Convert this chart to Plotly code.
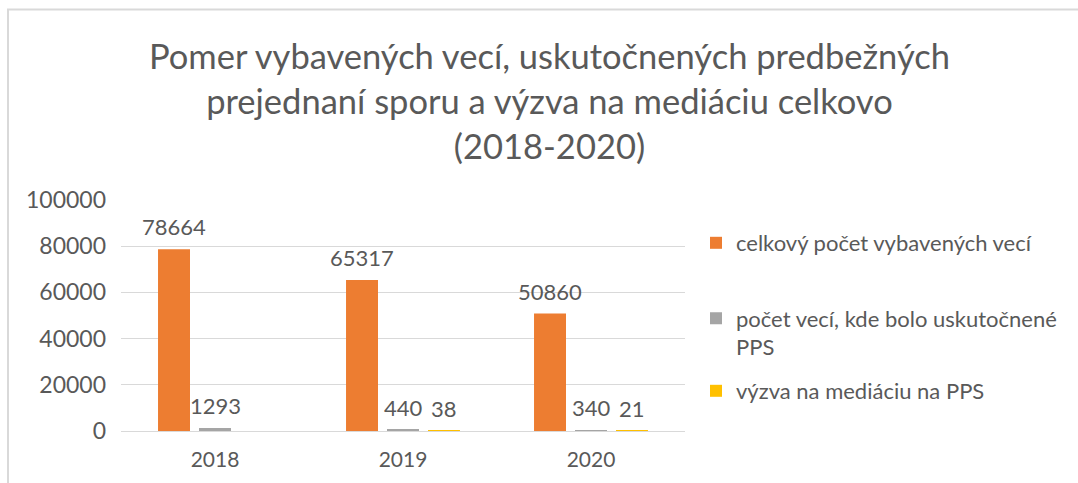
import plotly.graph_objects as go

years = ["2018", "2019", "2020"]
series_names = [
    "celkový počet vybavených vecí",
    "počet vecí, kde bolo uskutočnené<br>PPS",
    "výzva na mediáciu na PPS",
]
total_cases = [78664, 65317, 50860]
pps_cases = [1293, 440, 340]
mediation_calls = [None, 38, 21]
colors = ["#ED7D31", "#A5A5A5", "#FFC000"]
y_ticks = [0, 20000, 40000, 60000, 80000, 100000]

title_text = ("Pomer vybavených vecí, uskutočnených predbežných<br>"
              "prejednaní sporu a výzva na mediáciu celkovo<br>(2018-2020)")

FONT = "Lato"
TXT = "#595959"

W, H = 1078, 483
L, R, T, B = 121, 1078 - 685, 200, 483 - 431
pw, ph = W - L - R, H - T - B
BARGAP, BARGROUPGAP = 0.346, 0.22

def px_x(px):
    return (px - L) / pw

def px_y(py):
    return (H - B - py) / ph

all_series = [total_cases, pps_cases, mediation_calls]
n_series = len(all_series)
slot_px = (pw / len(years)) * (1 - BARGAP) / n_series

fig = go.Figure()
legend_ids = ["legend", "legend2", "legend3"]
label_annotations = []
for i, (vals, name, col, lg) in enumerate(zip(all_series, series_names, colors, legend_ids)):
    fig.add_trace(go.Bar(
        x=years, y=vals, name=name, marker_color=col, marker_line_width=0,
        legend=lg,
    ))
    for j, v in enumerate(vals):
        if v is None:
            continue
        label_annotations.append(dict(
            text=str(v), x=j, y=v, xref="x", yref="y",
            xshift=(i - (n_series - 1) / 2) * slot_px, yshift=7,
            xanchor="center", yanchor="bottom", showarrow=False,
            font=dict(family=FONT, size=22, color=TXT),
        ))

legend_common = dict(font=dict(family=FONT, size=22, color=TXT), bgcolor="rgba(0,0,0,0)",
                     borderwidth=0, xanchor="left", yanchor="middle", itemwidth=30, valign="top")
fig.update_layout(
    width=W, height=H,
    margin=dict(l=L, r=R, t=T, b=B, pad=0, autoexpand=False),
    paper_bgcolor="white", plot_bgcolor="white",
    barmode="group", bargap=BARGAP, bargroupgap=BARGROUPGAP,
    font=dict(family=FONT, color=TXT),
    showlegend=True,
    legend=dict(x=px_x(696), y=px_y(243), **legend_common),
    legend2=dict(x=px_x(696), y=px_y(333), **legend_common),
    legend3=dict(x=px_x(696), y=px_y(391), **legend_common),
    xaxis=dict(type="category", range=[-0.5, len(years) - 0.5], autorange=False,
               showgrid=False, showline=True, linecolor="#D9D9D9", linewidth=1,
               ticks="", tickfont=dict(family=FONT, size=21, color=TXT),
               ticklabelstandoff=10, automargin=False),
    yaxis=dict(range=[0, 100000], autorange=False, tickvals=y_ticks, ticktext=[str(v) for v in y_ticks],
               showgrid=True, gridcolor="#D9D9D9", gridwidth=1, zeroline=False,
               showline=False, ticks="", tickfont=dict(family=FONT, size=23, color=TXT),
               ticklabelstandoff=14, automargin=False),
    annotations=[dict(
        text=title_text, xref="paper", yref="paper", x=px_x(549), y=px_y(101),
        xanchor="center", yanchor="middle", showarrow=False, align="center",
        font=dict(family=FONT, size=34.5, color=TXT),
    )] + label_annotations,
    shapes=[dict(type="rect", xref="paper", yref="paper",
                 x0=px_x(8), x1=px_x(1090), y0=px_y(495), y1=px_y(9.5),
                 line=dict(color="#D9D9D9", width=2), layer="below")],
)

fig.write_html("out.html", config={"displayModeBar": False},
               post_script="document.body.style.margin='0';")
